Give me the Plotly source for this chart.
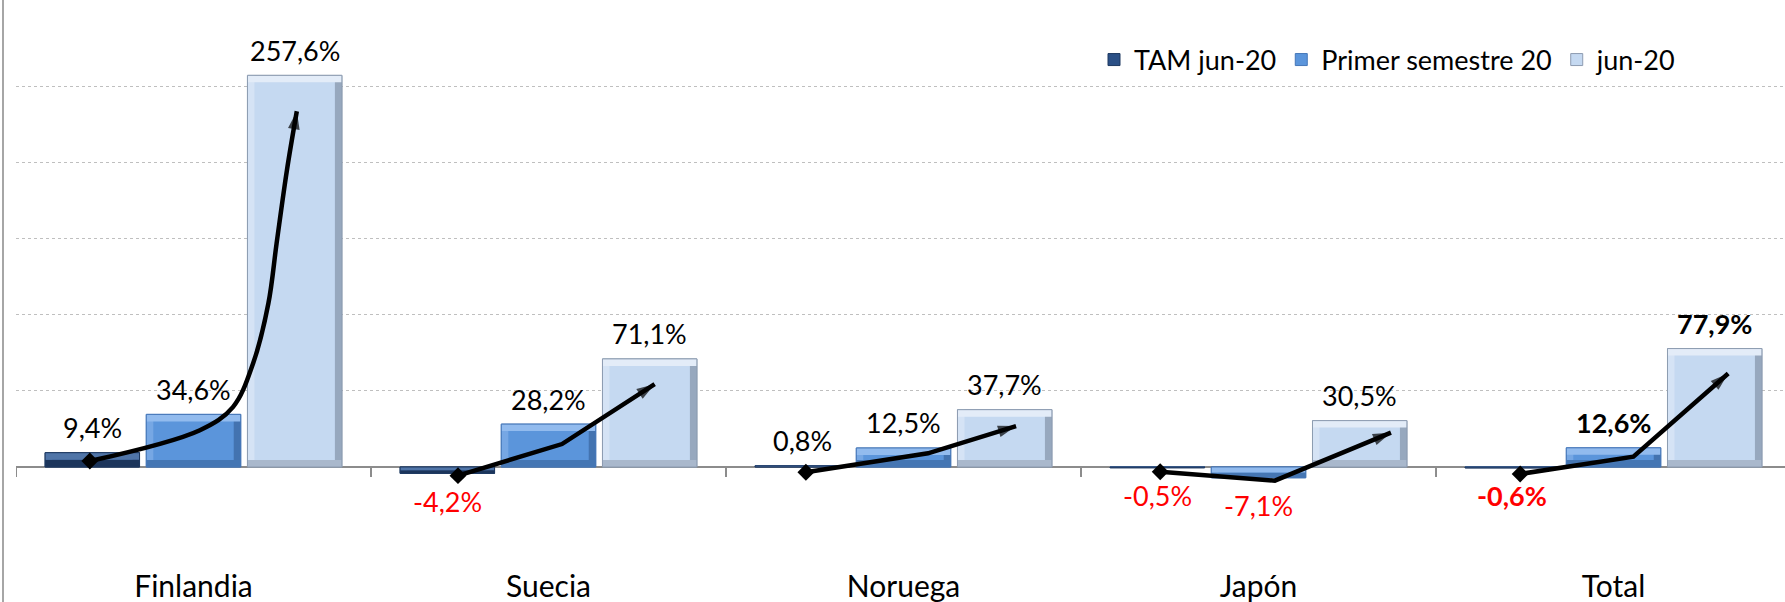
import plotly.graph_objects as go

# ---------------- data ----------------
categories = ["Finlandia", "Suecia", "Noruega", "Japón", "Total"]
series_names = ["TAM jun-20", "Primer semestre 20", "jun-20"]
tam_jun20 = [9.4, -4.2, 0.8, -0.5, -0.6]
primer_sem20 = [34.6, 28.2, 12.5, -7.1, 12.6]
jun20 = [257.6, 71.1, 37.7, 30.5, 77.9]
bold_categories = ["Total"]

# hand-drawn trend arrows (x offset from category centre, value)
arrow_fin_dx = [-0.292, 0.018, 0.111, 0.168, 0.211, 0.234, 0.263, 0.291]
arrow_fin_y = [3.9, 24.2, 39.4, 68.3, 107.7, 147.0, 195.0, 234.0]
arrow_sue_dx = [-0.255, 0.038, 0.299]
arrow_sue_y = [-5.7, 15.1, 54.5]
arrow_nor_dx = [-0.275, 0.069, 0.317]
arrow_nor_y = [-3.5, 9.0, 26.9]
arrow_jap_dx = [-0.277, 0.046, 0.373]
arrow_jap_y = [-3.1, -9.0, 22.6]
arrow_tot_dx = [-0.263, 0.056, 0.323]
arrow_tot_y = [-4.6, 6.8, 61.5]

# ---------------- layout constants ----------------
FONT = "Lato"
W, H = 1785, 602
ML, MR, MT, MB = 16, 0, 10, 59
x_range = [-0.5, 4.483]
y_range = [-50, 300.6]
plot_w = W - ML - MR
plot_h = H - MT - MB
px_per_x = plot_w / (x_range[1] - x_range[0])
px_per_y = plot_h / (y_range[1] - y_range[0])
slot = 0.285
bar_w = 0.266
bevel_px = 7

palettes = [
    dict(face="#2B5086", top="#5075A8", left="#3A5F94", right="#1F3A62", bottom="#1C355B", edge="#1E3961"),
    dict(face="#5B95DB", top="#92BBEE", left="#76A7E4", right="#4373B0", bottom="#4576B3", edge="#4677B8"),
    dict(face="#C5D9F1", top="#E3ECF8", left="#D5E3F5", right="#97A8BE", bottom="#A9B8CC", edge="#8D9CB1"),
]

fig = go.Figure()
xs = list(range(len(categories)))
all_series = [tam_jun20, primer_sem20, jun20]

for s, (name, vals, pal) in enumerate(zip(series_names, all_series, palettes)):
    centre = (s - 1) * slot
    off = centre - bar_w / 2
    tops = [max(v, 0) for v in vals]
    bots = [min(v, 0) for v in vals]
    hts = [abs(v) for v in vals]
    by = [min(bevel_px / px_per_y, h / 2) for h in hts]
    bx = bevel_px / px_per_x
    common = dict(x=xs, hoverinfo="skip", showlegend=False)
    # face (legend entry)
    fig.add_bar(x=xs, y=vals, name=name, width=bar_w, offset=off,
                marker=dict(color=pal["face"], line=dict(color=pal["edge"], width=1)),
                hoverinfo="skip", showlegend=True)
    # bevel strips
    fig.add_bar(y=hts, base=bots, width=bx, offset=off,
                marker=dict(color=pal["left"], line=dict(width=0)), **common)
    fig.add_bar(y=hts, base=bots, width=bx, offset=off + bar_w - bx,
                marker=dict(color=pal["right"], line=dict(width=0)), **common)
    fig.add_bar(y=by, base=bots, width=bar_w, offset=off,
                marker=dict(color=pal["bottom"], line=dict(width=0)), **common)
    fig.add_bar(y=by, base=[t - b for t, b in zip(tops, by)], width=bar_w, offset=off,
                marker=dict(color=pal["top"], line=dict(width=0)), **common)
    # outline
    fig.add_bar(y=vals, width=bar_w, offset=off,
                marker=dict(color="rgba(0,0,0,0)", line=dict(color=pal["edge"], width=1)), **common)

# data labels
annotations = []
for s, vals in enumerate(all_series):
    centre = (s - 1) * slot
    for i, v in enumerate(vals):
        txt = f"{v:.1f}".replace(".", ",") + "%"
        if categories[i] in bold_categories:
            txt = f"<b>{txt}</b>"
        annotations.append(dict(
            x=i + centre, y=v, xref="x", yref="y", text=txt, showarrow=False,
            yshift=25 if v >= 0 else -28, yanchor="middle", xanchor="center",
            font=dict(family=FONT, size=27, color="#000000" if v >= 0 else "#FF0000"),
        ))

# arrows
arrows = [
    (0, arrow_fin_dx, arrow_fin_y),
    (1, arrow_sue_dx, arrow_sue_y),
    (2, arrow_nor_dx, arrow_nor_y),
    (3, arrow_jap_dx, arrow_jap_y),
    (4, arrow_tot_dx, arrow_tot_y),
]
for idx, dx, ys in arrows:
    n = len(dx)
    ax = [idx + d for d in dx]
    fig.add_scatter(
        x=ax, y=ys, mode="lines+markers",
        line=dict(color="#000000", width=4.5, shape="spline" if n > 3 else "linear"),
        marker=dict(symbol=["circle"] * (n - 1) + ["arrow"],
                    size=[0] * (n - 1) + [19], color="#000000",
                    angleref="previous", line=dict(width=0)),
        hoverinfo="skip", showlegend=False, cliponaxis=False,
    )
    fig.add_scatter(
        x=ax[:1], y=ys[:1], mode="markers",
        marker=dict(symbol="diamond", size=13, color="#000000", line=dict(width=0)),
        hoverinfo="skip", showlegend=False, cliponaxis=False,
    )

shapes = []
# tick marks at category boundaries on the zero line
for i in range(len(categories) + 1):
    shapes.append(dict(type="line", xref="x", yref="y", ysizemode="pixel", yanchor=0,
                       x0=i - 0.5, x1=i - 0.5, y0=0, y1=-10,
                       line=dict(color="#8C8C8C", width=2), layer="above"))
# chart-area left border
shapes.append(dict(type="line", xref="paper", yref="paper",
                   x0=-(ML - 3) / plot_w, x1=-(ML - 3) / plot_w,
                   y0=-(MB + 5) / plot_h, y1=1 + (MT + 5) / plot_h,
                   line=dict(color="#A6A6A6", width=2)))

fig.update_layout(
    width=W, height=H,
    margin=dict(l=ML, r=MR, t=MT, b=MB, autoexpand=False),
    paper_bgcolor="white", plot_bgcolor="white",
    barmode="overlay",
    font=dict(family=FONT, size=27, color="#000000"),
    showlegend=True,
    legend=dict(orientation="h", x=(1094 - ML) / plot_w, xanchor="left",
                y=(H - MB - 60) / plot_h, yanchor="middle",
                font=dict(family=FONT, size=27, color="#000000"),
                bgcolor="rgba(0,0,0,0)", traceorder="normal"),
    xaxis=dict(range=x_range, tickmode="array", tickvals=xs, ticktext=categories,
               showgrid=False, zeroline=False, showline=False, ticks="",
               tickfont=dict(family=FONT, size=30, color="#000000"),
               ticklabelstandoff=23, automargin=False, fixedrange=True),
    yaxis=dict(range=y_range, dtick=50, tick0=0, showticklabels=False, showgrid=True,
               gridcolor="#BFBFBF", gridwidth=1, griddash="dot",
               zeroline=True, zerolinecolor="#8C8C8C", zerolinewidth=2,
               showline=False, automargin=False, fixedrange=True),
    annotations=annotations,
    shapes=shapes,
)

fig.write_html(
    "out.html",
    config={"displayModeBar": False},
    post_script="document.body.style.margin='0';document.body.style.overflow='hidden';",
)
